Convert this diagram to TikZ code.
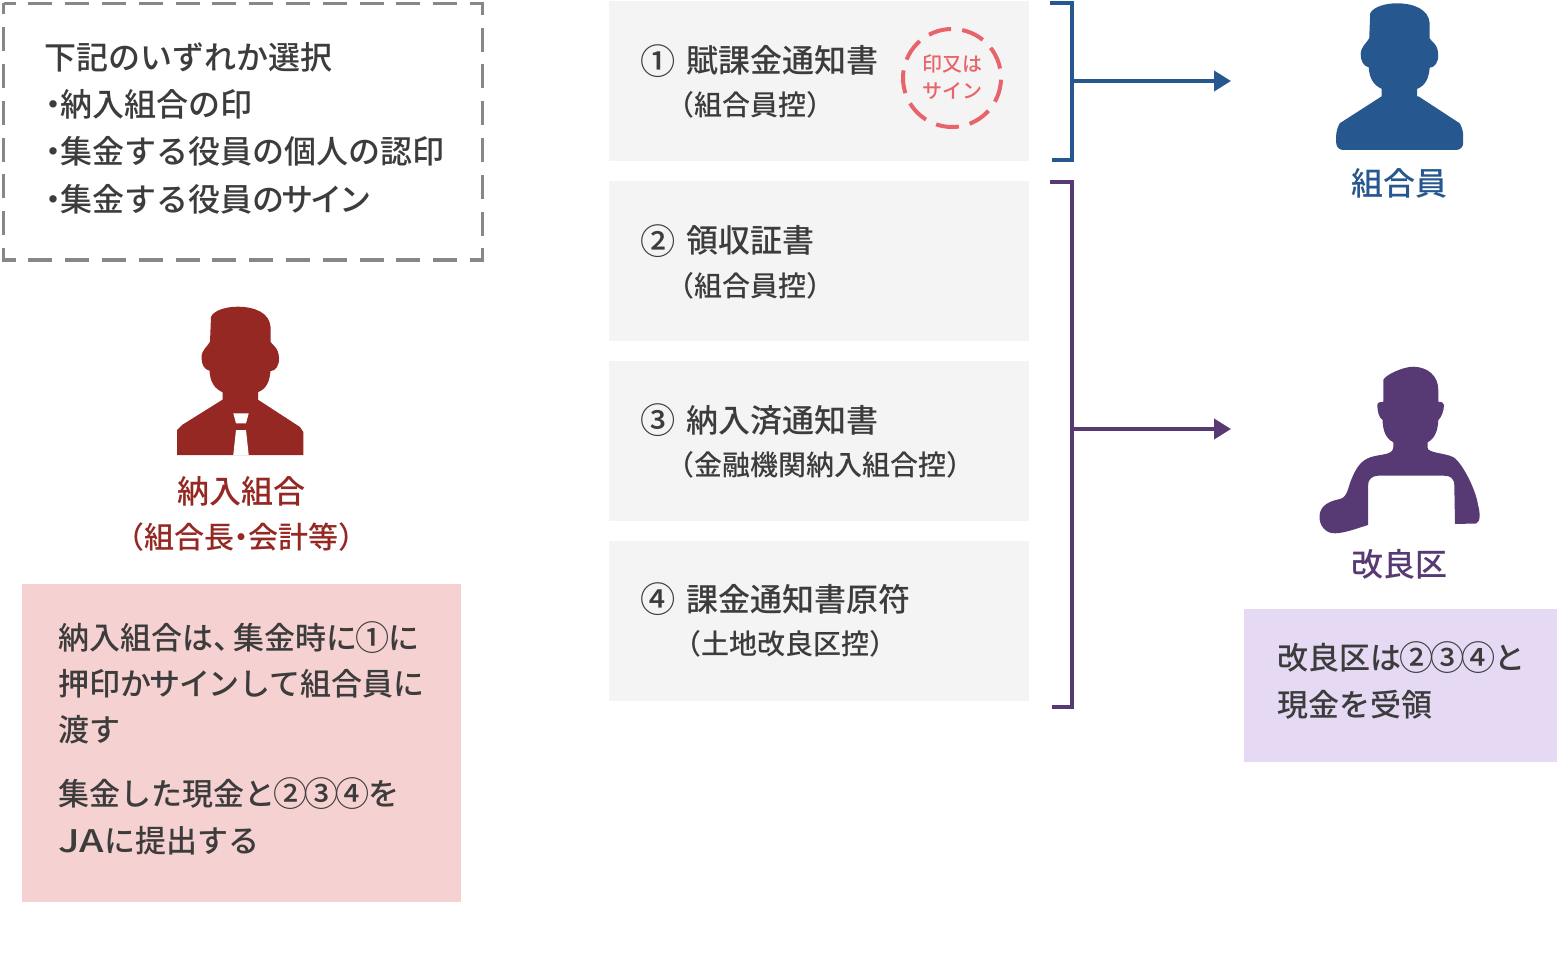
\documentclass[tikz,border=0pt]{standalone}
\usepackage{fontspec}
\usetikzlibrary{arrows.meta,positioning,calc}
\setmainfont{Noto Sans CJK JP Medium}
\definecolor{kumiai}{HTML}{26588F}
\definecolor{nonyu}{HTML}{952823}
\definecolor{kairyo}{HTML}{573A73}
\definecolor{textgray}{HTML}{3C3C3C}
\definecolor{panelgray}{HTML}{F4F4F4}
\definecolor{stamp}{HTML}{E8646A}
\definecolor{pinkbox}{HTML}{F6D1D1}
\definecolor{lilacbox}{HTML}{E6D9F4}
\newcommand{\nakaten}{\hbox to 14pt{\hss・\hss}}
\newcommand{\touten}{\hbox to 20pt{、\hss}}
\newcommand{\maru}[1]{\hbox to 1em{\hss\raisebox{-.04em}{\scalebox{1.1}{#1}}\hss}}
% head and neck of the person icons, from neck left to neck right
\newcommand{\manhead}{(-18,93) -- (-18,85.5) .. controls (-26,82) and (-30.5,75) .. (-31,64)
  .. controls (-36,63) and (-39,58) .. (-39,51) .. controls (-39,43) and (-33,40) .. (-30.5,35)
  -- (-29.5,10) .. controls (-26,3) and (-13,0) .. (-3,0) .. controls (14,0) and (29,6) .. (30,20)
  -- (30,35) .. controls (31,38) and (38,40) .. (38.5,51) .. controls (39,59) and (35,64) .. (30,64.5)
  .. controls (29,75) and (26,82) .. (17.5,85.5) -- (17.5,93)}
\tikzset{
  panel/.style={fill=panelgray, draw=none, minimum width=420pt, minimum height=160pt,
    inner sep=0pt, anchor=north west},
  jtext/.style={anchor=base west, inner sep=0pt, text=textgray},
  headtext/.style={jtext, font=\fontsize{32pt}{32pt}\selectfont},
  subtext/.style={jtext, font=\fontsize{28pt}{28pt}\selectfont},
  bodytext/.style={jtext, font=\fontsize{31pt}{31pt}\selectfont},
  rolelabel/.style={anchor=base, inner sep=0pt, font=\fontsize{32pt}{32pt}\selectfont},
  stamptext/.style={anchor=base, inner sep=0pt, text=stamp, font=\fontsize{20pt}{20pt}\selectfont},
  bracket/.style={line width=4pt, draw=#1},
  arr/.style={-{Triangle[length=17pt,width=20pt]}, line width=4pt, draw=#1}
}
\begin{document}
\begin{tikzpicture}[x=1pt,y=-1pt]
  \useasboundingbox (0,0) rectangle (1560,976);
  % selection box
  \node[minimum width=479pt, minimum height=256.5pt, inner sep=0pt, outer sep=0pt,
    anchor=north west] (selbox) at (3.5,3.5) {};
  \draw[black!47, line width=3.5pt, dash pattern=on 24pt off 12.8pt, dash phase=12pt]
    (selbox.north west) -- (selbox.north east) -- (selbox.south east) -- (selbox.south west) -- cycle;
  \foreach \n/\x/\y/\txt in {
    0/44/70/下記のいずれか選択,
    1/46/117/\nakaten 納入組合の印,
    2/46/164/\nakaten 集金する役員の個人の認印,
    3/46/212/\nakaten 集金する役員の\kern-3pt サ\kern-3pt イ\kern-3pt ン} {
    \node[headtext] (sel\n) at (\x,\y) {\txt};
  }
  % slips
  \foreach \n/\y/\ty/\mk/\head/\sub/\subx in {
    1/1/73/①/賦課金通知書/（組合員控）/666,
    2/181/253/②/領収証書/（組合員控）/666,
    3/361/432/③/納入済通知書/（金融機関納入組合控）/666,
    4/541/611/④/課金通知書原符/（土地改良区控）/673} {
    \node[panel] (slip\n) at (609,\y) {};
    \node[headtext] (head\n) at (642,\ty) {\hbox to 44pt{\maru{\mk}\hss}\head};
    \node[subtext] (sub\n) at (\subx,\ty+43) {\sub};
  }
  % stamp
  \coordinate (stampc) at (952,78);
  \draw[stamp, line width=4pt, dash pattern=on 23pt off 11.2pt, shift={(stampc)}, rotate=118]
    (0,0) circle (49);
  \node[stamptext] (stamp1) at (952,71.5) {印又は};
  \node[stamptext] (stamp2) at (952,99) {サイン};
  % brackets and arrows
  \coordinate (btop) at (1050,3);
  \coordinate (bbot) at (1052,160.5);
  \coordinate (bmid) at (1072,81);
  \coordinate (bend) at (1231,81);
  \draw[bracket=kumiai] (btop) -| (bmid) |- (bbot);
  \draw[arr=kumiai] (bmid) -- (bend);
  \coordinate (ptop) at (1050,182);
  \coordinate (pbot) at (1052,707);
  \coordinate (pmid) at (1072,429);
  \coordinate (pend) at (1231,429);
  \draw[bracket=kairyo] (ptop) -| (pmid) |- (pbot);
  \draw[arr=kairyo] (pmid) -- (pend);
  % nonyu kumiai
  \fill[nonyu, shift={(240.5,306.7)}] \manhead -- (59.5,120.3) -- (62.8,125.3) -- (62.8,148.3)
    -- (-63.5,148.3) -- (-63.5,123.3) -- (-58.5,118.3) -- (-18,93) -- cycle;
  \fill[white] (233.3,413.3) -- (248.7,413.3) -- (246,423.3) -- (236,423.3) -- cycle;
  \fill[white] (236,430) -- (246,430) -- (248.7,455) -- (233.3,455) -- cycle;
  \node[rolelabel, text=nonyu] (nonyulabel) at (241,503) {納入組合};
  \node[rolelabel, text=nonyu, font=\fontsize{30pt}{30pt}\selectfont] (nonyusub) at (241,548) {（組合長\nakaten 会計等）};
  \node[fill=pinkbox, minimum width=439pt, minimum height=318pt, inner sep=0pt,
    anchor=north west] (nonyubox) at (22,584) {};
  \foreach \n/\y/\txt in {
    1/649/納入組合は\touten 集金時に\maru{①}に,
    2/695/押印か\kern-1.5pt サ\kern-1.5pt イ\kern-1.5pt ンして組合員に,
    3/741/渡す,
    4/805/集金した現金と\maru{②}\maru{③}\maru{④}を,
    5/852/\scalebox{1.27}[1]{JA}に提出する} {
    \node[bodytext] (nonyu\n) at (58,\y) {\txt};
  }
  % kumiaiin
  \fill[kumiai, shift={(1399.7,3.3)}] \manhead -- (18.7,93)
    -- (60,120) [rounded corners=7pt] -- (63.5,125) -- (63.5,146.7) -- (-63.5,146.7) -- (-63.5,125)
    [sharp corners] -- (-60,120) -- (-18,93) -- cycle;
  \node[rolelabel, text=kumiai] (kumiailabel) at (1399,196) {組合員};
  % kairyoku
  \fill[kairyo] (1383.3,380) .. controls (1385,375) and (1403,366.7) .. (1413.3,366.7)
    .. controls (1428,367) and (1438.3,376) .. (1438.3,390) -- (1438.3,401.7)
    .. controls (1441,402) and (1444,402) .. (1444,405) .. controls (1444,411) and (1441,418) .. (1438.3,420)
    .. controls (1438,428) and (1436,438) .. (1427.7,442.3) -- (1427.7,448)
    .. controls (1428,453) and (1445,453) .. (1453,457) .. controls (1462,462) and (1476,490) .. (1478,505)
    .. controls (1480,512) and (1481,522) .. (1476,523.5) -- (1455,524) -- (1454.3,485)
    .. controls (1454,478) and (1450,475.7) .. (1444,475.7) -- (1378,475.7)
    .. controls (1372,476) and (1368,479) .. (1368,486) -- (1368,525) .. controls (1355,529) and (1345,533) .. (1335,533.3)
    .. controls (1325,533.5) and (1319,525) .. (1319.5,516) .. controls (1320,505) and (1330,501) .. (1340,499)
    .. controls (1348,497) and (1348,486) .. (1352,478) .. controls (1358,463) and (1365,458) .. (1375,456)
    .. controls (1385,454) and (1393,454) .. (1393.3,447) -- (1393.3,442.3)
    .. controls (1385,438) and (1383,430) .. (1382.5,420) .. controls (1379,418) and (1377.3,411) .. (1377.3,405)
    .. controls (1377.3,402) and (1381,402) .. (1383.3,401.7) -- cycle;
  \node[rolelabel, text=kairyo] (kairyolabel) at (1399,576) {改良区};
  \node[fill=lilacbox, minimum width=313pt, minimum height=153pt, inner sep=0pt,
    anchor=north west] (kairyobox) at (1244,609) {};
  \node[bodytext] (kairyo1) at (1277,669) {改良区は\maru{②}\maru{③}\maru{④}と};
  \node[bodytext] (kairyo2) at (1277,716) {現金を受領};
\end{tikzpicture}
\end{document}
